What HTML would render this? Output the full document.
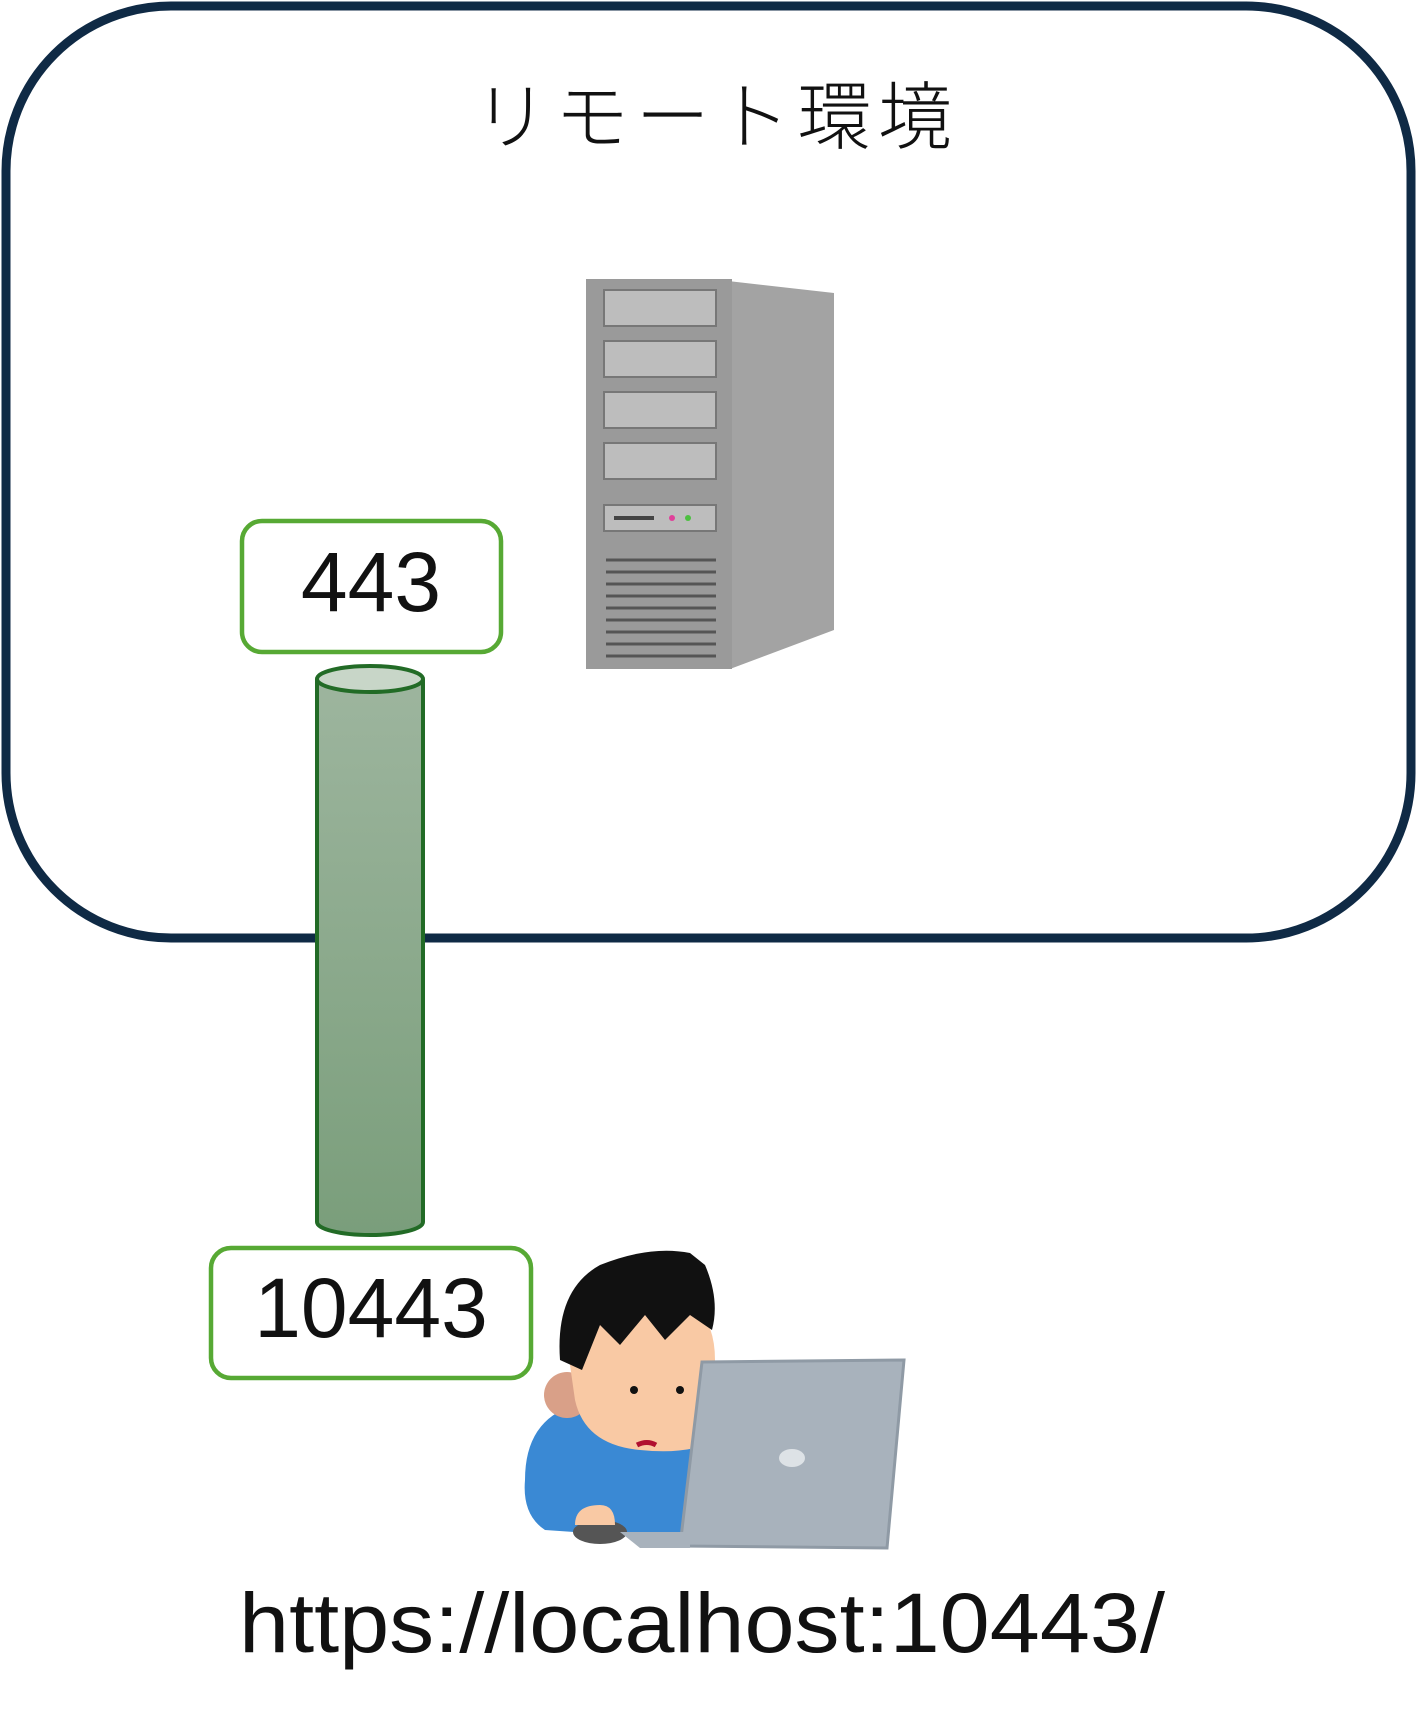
<!DOCTYPE html>
<html><head><meta charset="utf-8"><style>html,body{margin:0;padding:0;background:#fff}svg{display:block}</style></head>
<body>
<svg width="1417" height="1728" viewBox="0 0 1417 1728" xmlns="http://www.w3.org/2000/svg">
<defs>
<linearGradient id="cg" x1="0" y1="0" x2="0" y2="1"><stop offset="0" stop-color="#9db59e"/><stop offset="1" stop-color="#7a9e7b"/></linearGradient>
</defs>
<rect x="6" y="6" width="1405" height="932" rx="165" ry="165" fill="#fff" stroke="#0f2a45" stroke-width="9"/>
<text x="713" y="143" font-family="Liberation Sans, Noto Sans CJK JP, sans-serif" font-size="74" font-weight="300" text-anchor="middle" textLength="478" lengthAdjust="spacing" fill="#111">リモート環境</text>
<!-- server -->
<polygon points="728,281 834,293 834,630 730,669" fill="#a3a3a3"/>
<rect x="586" y="279" width="146" height="390" fill="#9a9a9a"/>
<rect x="604" y="290" width="112" height="36" fill="#bdbdbd" stroke="#777" stroke-width="2"/>
<rect x="604" y="341" width="112" height="36" fill="#bdbdbd" stroke="#777" stroke-width="2"/>
<rect x="604" y="392" width="112" height="36" fill="#bdbdbd" stroke="#777" stroke-width="2"/>
<rect x="604" y="443" width="112" height="36" fill="#bdbdbd" stroke="#777" stroke-width="2"/>
<rect x="604" y="505" width="112" height="26" fill="#bdbdbd" stroke="#777" stroke-width="2"/>
<rect x="614" y="516" width="40" height="4" fill="#444"/><circle cx="672" cy="518" r="3" fill="#e0409a"/><circle cx="688" cy="518" r="3" fill="#4cc040"/>
<g stroke="#555" stroke-width="3">
<line x1="606" y1="560" x2="716" y2="560"/><line x1="606" y1="572" x2="716" y2="572"/><line x1="606" y1="584" x2="716" y2="584"/><line x1="606" y1="596" x2="716" y2="596"/><line x1="606" y1="608" x2="716" y2="608"/><line x1="606" y1="620" x2="716" y2="620"/><line x1="606" y1="632" x2="716" y2="632"/><line x1="606" y1="644" x2="716" y2="644"/><line x1="606" y1="656" x2="716" y2="656"/>
</g>
<!-- cylinder -->
<path d="M317,679 L317,1222 A53,13 0 0 0 423,1222 L423,679" fill="url(#cg)" stroke="#226b26" stroke-width="4"/>
<ellipse cx="370" cy="679" rx="53" ry="13" fill="#c8d6c8" stroke="#226b26" stroke-width="4"/>
<!-- port boxes -->
<rect x="242" y="521" width="259" height="131" rx="20" fill="#fff" stroke="#57a934" stroke-width="4.5"/>
<text x="371" y="611" font-family="Liberation Sans, sans-serif" font-size="84" text-anchor="middle" fill="#111">443</text>
<rect x="211" y="1248" width="320" height="130" rx="20" fill="#fff" stroke="#57a934" stroke-width="4.5"/>
<text x="371" y="1337" font-family="Liberation Sans, sans-serif" font-size="84" text-anchor="middle" fill="#111">10443</text>
<!-- person -->
<path d="M525,1480 Q525,1420 575,1405 L690,1400 L690,1540 L545,1530 Q522,1515 525,1480Z" fill="#3a89d4"/>
<circle cx="567" cy="1395" r="23" fill="#d9a088"/>
<path d="M565,1330 Q570,1280 640,1290 Q715,1290 715,1360 L715,1440 Q690,1455 640,1450 Q585,1445 575,1400Z" fill="#f9c9a4"/>
<path d="M560,1360 Q555,1290 600,1265 Q650,1245 690,1253 L705,1265 Q720,1300 712,1330 L690,1315 L665,1340 L645,1315 L620,1345 L600,1325 L582,1370 Z" fill="#111"/>
<circle cx="634" cy="1390" r="4" fill="#111"/><circle cx="680" cy="1390" r="4" fill="#111"/>
<path d="M637,1445 Q647,1440 656,1445" stroke="#b01030" stroke-width="5" fill="none"/>
<ellipse cx="600" cy="1532" rx="27" ry="12" fill="#555"/>
<path d="M575,1525 Q575,1505 600,1505 Q615,1505 615,1525Z" fill="#f9c9a4"/>
<polygon points="702,1362 904,1360 887,1548 680,1546" fill="#a8b2bc" stroke="#8f9aa5" stroke-width="3"/>
<polygon points="620,1532 690,1532 690,1548 640,1548" fill="#a8b2bc"/>
<ellipse cx="792" cy="1458" rx="13" ry="9" fill="#dde2e6"/>
<!-- url -->
<text x="239" y="1652" font-family="Liberation Sans, sans-serif" font-size="84" textLength="926" lengthAdjust="spacingAndGlyphs" fill="#111">https://localhost:10443/</text>
</svg>
</body></html>
